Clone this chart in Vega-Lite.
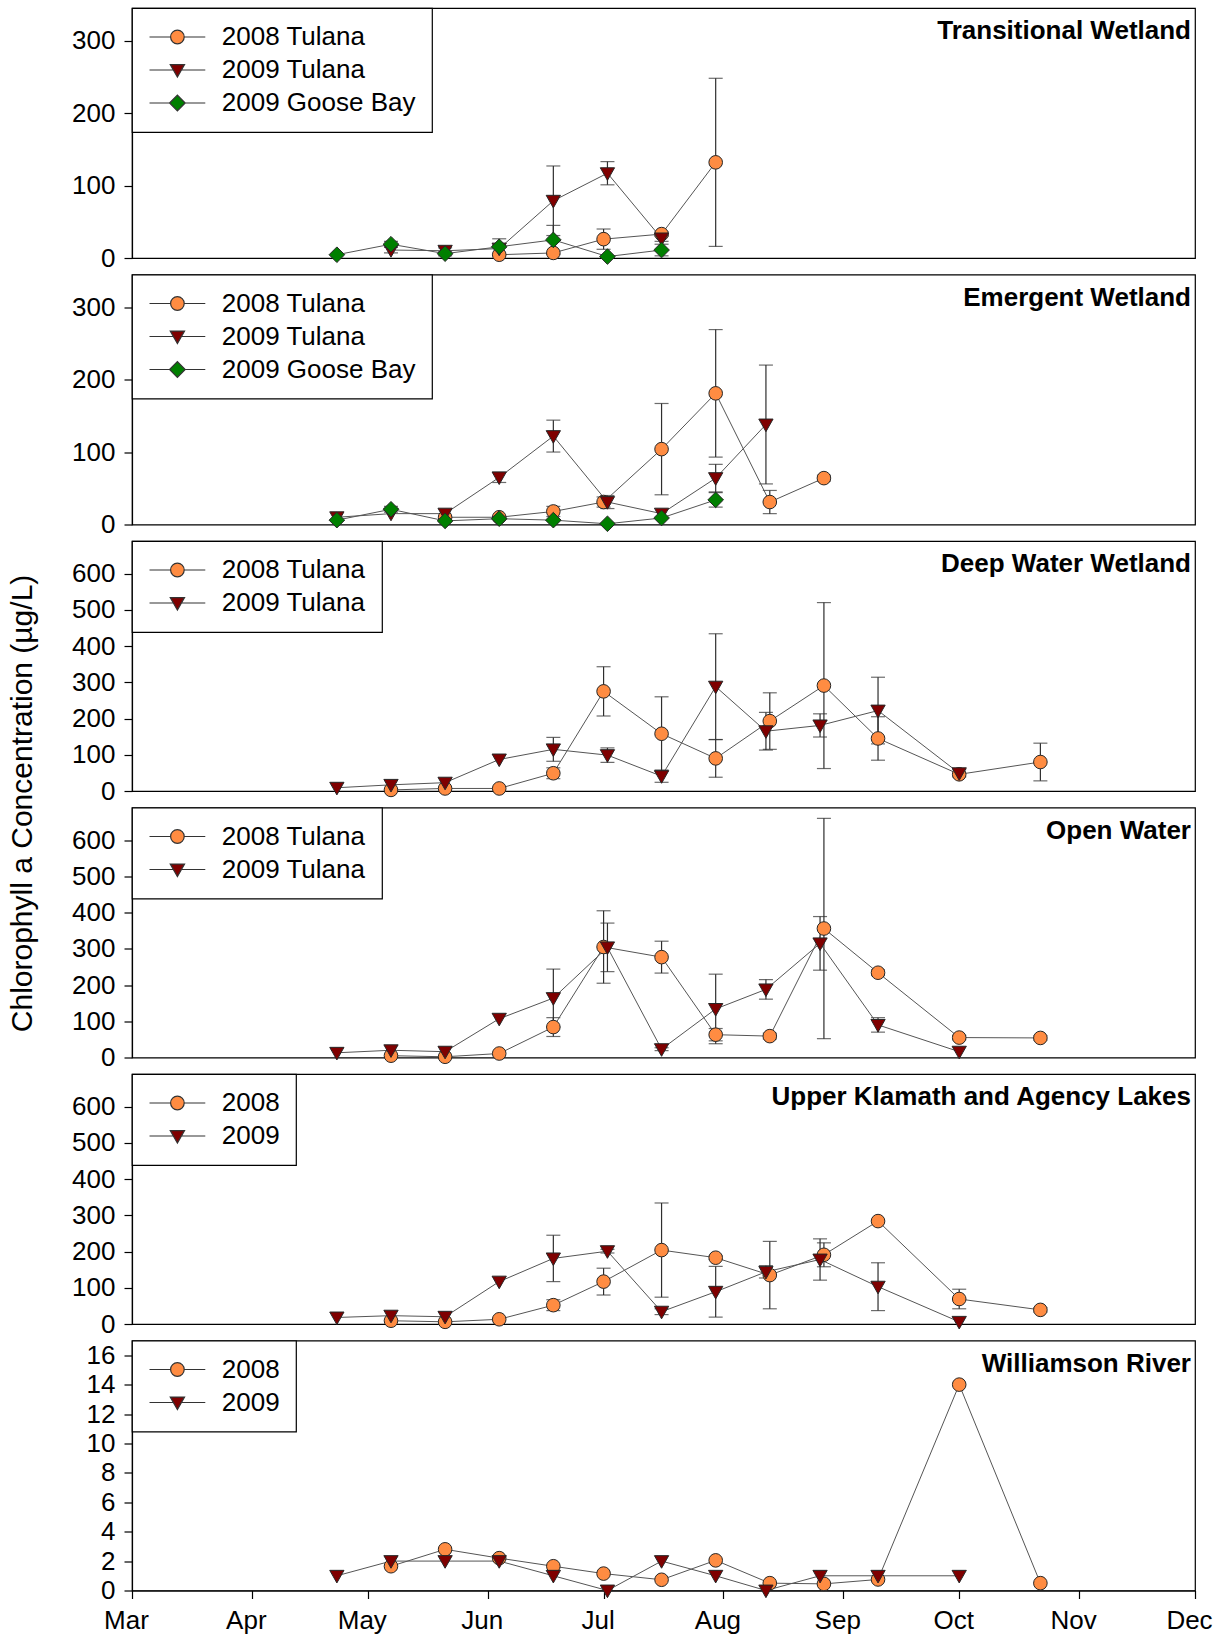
{
  "$schema": "https://vega.github.io/schema/vega-lite/v6.json",
  "padding": {"left": 8, "top": 6, "right": 0, "bottom": 0},
  "title": {
    "text": "Chlorophyll a Concentration (µg/L)",
    "orient": "left",
    "anchor": "middle",
    "frame": "bounds",
    "offset": 3,
    "baseline": "bottom",
    "dx": 17,
    "font": "Liberation Sans",
    "fontSize": 30,
    "fontWeight": "normal",
    "color": "black"
  },
  "datasets": {
    "chl": [
      {"panel": "transitional", "series": "2008 Tulana", "date": "2008-06-04", "value": 4.5, "sd": 0},
      {"panel": "transitional", "series": "2008 Tulana", "date": "2008-06-18", "value": 7, "sd": 0},
      {"panel": "transitional", "series": "2008 Tulana", "date": "2008-07-01", "value": 26, "sd": 14},
      {"panel": "transitional", "series": "2008 Tulana", "date": "2008-07-16", "value": 33, "sd": 3},
      {"panel": "transitional", "series": "2008 Tulana", "date": "2008-07-30", "value": 132, "sd": 116},
      {"panel": "transitional", "series": "2009 Tulana", "date": "2009-05-07", "value": 11, "sd": 4},
      {"panel": "transitional", "series": "2009 Tulana", "date": "2009-05-21", "value": 10, "sd": 4},
      {"panel": "transitional", "series": "2009 Tulana", "date": "2009-06-04", "value": 13, "sd": 0},
      {"panel": "transitional", "series": "2009 Tulana", "date": "2009-06-18", "value": 79, "sd": 48},
      {"panel": "transitional", "series": "2009 Tulana", "date": "2009-07-02", "value": 117, "sd": 16},
      {"panel": "transitional", "series": "2009 Tulana", "date": "2009-07-16", "value": 27, "sd": 4},
      {"panel": "transitional", "series": "2009 Goose Bay", "date": "2009-04-23", "value": 4.5, "sd": 0},
      {"panel": "transitional", "series": "2009 Goose Bay", "date": "2009-05-07", "value": 19, "sd": 4},
      {"panel": "transitional", "series": "2009 Goose Bay", "date": "2009-05-21", "value": 6, "sd": 3},
      {"panel": "transitional", "series": "2009 Goose Bay", "date": "2009-06-04", "value": 15.5, "sd": 11},
      {"panel": "transitional", "series": "2009 Goose Bay", "date": "2009-06-18", "value": 25, "sd": 20},
      {"panel": "transitional", "series": "2009 Goose Bay", "date": "2009-07-02", "value": 2, "sd": 0},
      {"panel": "transitional", "series": "2009 Goose Bay", "date": "2009-07-16", "value": 11, "sd": 8},

      {"panel": "emergent", "series": "2008 Tulana", "date": "2008-05-21", "value": 10, "sd": 0},
      {"panel": "emergent", "series": "2008 Tulana", "date": "2008-06-04", "value": 10, "sd": 0},
      {"panel": "emergent", "series": "2008 Tulana", "date": "2008-06-18", "value": 18, "sd": 7},
      {"panel": "emergent", "series": "2008 Tulana", "date": "2008-07-01", "value": 31, "sd": 7},
      {"panel": "emergent", "series": "2008 Tulana", "date": "2008-07-16", "value": 104, "sd": 63},
      {"panel": "emergent", "series": "2008 Tulana", "date": "2008-07-30", "value": 181, "sd": 88},
      {"panel": "emergent", "series": "2008 Tulana", "date": "2008-08-13", "value": 31, "sd": 16},
      {"panel": "emergent", "series": "2008 Tulana", "date": "2008-08-27", "value": 64, "sd": 4},
      {"panel": "emergent", "series": "2009 Tulana", "date": "2009-04-23", "value": 10, "sd": 0},
      {"panel": "emergent", "series": "2009 Tulana", "date": "2009-05-07", "value": 15, "sd": 0},
      {"panel": "emergent", "series": "2009 Tulana", "date": "2009-05-21", "value": 15, "sd": 0},
      {"panel": "emergent", "series": "2009 Tulana", "date": "2009-06-04", "value": 65, "sd": 7},
      {"panel": "emergent", "series": "2009 Tulana", "date": "2009-06-18", "value": 122, "sd": 22},
      {"panel": "emergent", "series": "2009 Tulana", "date": "2009-07-02", "value": 31, "sd": 9},
      {"panel": "emergent", "series": "2009 Tulana", "date": "2009-07-16", "value": 15, "sd": 0},
      {"panel": "emergent", "series": "2009 Tulana", "date": "2009-07-30", "value": 64, "sd": 19},
      {"panel": "emergent", "series": "2009 Tulana", "date": "2009-08-12", "value": 138, "sd": 82},
      {"panel": "emergent", "series": "2009 Goose Bay", "date": "2009-04-23", "value": 6, "sd": 0},
      {"panel": "emergent", "series": "2009 Goose Bay", "date": "2009-05-07", "value": 21, "sd": 4},
      {"panel": "emergent", "series": "2009 Goose Bay", "date": "2009-05-21", "value": 5, "sd": 0},
      {"panel": "emergent", "series": "2009 Goose Bay", "date": "2009-06-04", "value": 8, "sd": 0},
      {"panel": "emergent", "series": "2009 Goose Bay", "date": "2009-06-18", "value": 6, "sd": 0},
      {"panel": "emergent", "series": "2009 Goose Bay", "date": "2009-07-02", "value": 1, "sd": 0},
      {"panel": "emergent", "series": "2009 Goose Bay", "date": "2009-07-16", "value": 9, "sd": 0},
      {"panel": "emergent", "series": "2009 Goose Bay", "date": "2009-07-30", "value": 34, "sd": 10},

      {"panel": "deep", "series": "2008 Tulana", "date": "2008-05-07", "value": 3, "sd": 0},
      {"panel": "deep", "series": "2008 Tulana", "date": "2008-05-21", "value": 7, "sd": 0},
      {"panel": "deep", "series": "2008 Tulana", "date": "2008-06-04", "value": 7, "sd": 0},
      {"panel": "deep", "series": "2008 Tulana", "date": "2008-06-18", "value": 49, "sd": 15},
      {"panel": "deep", "series": "2008 Tulana", "date": "2008-07-01", "value": 275, "sd": 68},
      {"panel": "deep", "series": "2008 Tulana", "date": "2008-07-16", "value": 158, "sd": 102},
      {"panel": "deep", "series": "2008 Tulana", "date": "2008-07-30", "value": 90, "sd": 52},
      {"panel": "deep", "series": "2008 Tulana", "date": "2008-08-13", "value": 193, "sd": 78},
      {"panel": "deep", "series": "2008 Tulana", "date": "2008-08-27", "value": 291, "sd": 229},
      {"panel": "deep", "series": "2008 Tulana", "date": "2008-09-10", "value": 145, "sd": 60},
      {"panel": "deep", "series": "2008 Tulana", "date": "2008-10-01", "value": 46, "sd": 0},
      {"panel": "deep", "series": "2008 Tulana", "date": "2008-10-22", "value": 80, "sd": 52},
      {"panel": "deep", "series": "2009 Tulana", "date": "2009-04-23", "value": 9, "sd": 0},
      {"panel": "deep", "series": "2009 Tulana", "date": "2009-05-07", "value": 17, "sd": 0},
      {"panel": "deep", "series": "2009 Tulana", "date": "2009-05-21", "value": 23, "sd": 0},
      {"panel": "deep", "series": "2009 Tulana", "date": "2009-06-04", "value": 87, "sd": 0},
      {"panel": "deep", "series": "2009 Tulana", "date": "2009-06-18", "value": 115, "sd": 33},
      {"panel": "deep", "series": "2009 Tulana", "date": "2009-07-02", "value": 99, "sd": 20},
      {"panel": "deep", "series": "2009 Tulana", "date": "2009-07-16", "value": 41, "sd": 17},
      {"panel": "deep", "series": "2009 Tulana", "date": "2009-07-30", "value": 288, "sd": 146},
      {"panel": "deep", "series": "2009 Tulana", "date": "2009-08-12", "value": 165, "sd": 52},
      {"panel": "deep", "series": "2009 Tulana", "date": "2009-08-26", "value": 181, "sd": 32},
      {"panel": "deep", "series": "2009 Tulana", "date": "2009-09-10", "value": 222, "sd": 92},
      {"panel": "deep", "series": "2009 Tulana", "date": "2009-10-01", "value": 49, "sd": 10},

      {"panel": "open", "series": "2008 Tulana", "date": "2008-05-07", "value": 5, "sd": 0},
      {"panel": "open", "series": "2008 Tulana", "date": "2008-05-21", "value": 2, "sd": 0},
      {"panel": "open", "series": "2008 Tulana", "date": "2008-06-04", "value": 11, "sd": 0},
      {"panel": "open", "series": "2008 Tulana", "date": "2008-06-18", "value": 84, "sd": 26},
      {"panel": "open", "series": "2008 Tulana", "date": "2008-07-01", "value": 305, "sd": 100},
      {"panel": "open", "series": "2008 Tulana", "date": "2008-07-16", "value": 277, "sd": 44},
      {"panel": "open", "series": "2008 Tulana", "date": "2008-07-30", "value": 63, "sd": 17},
      {"panel": "open", "series": "2008 Tulana", "date": "2008-08-13", "value": 59, "sd": 8},
      {"panel": "open", "series": "2008 Tulana", "date": "2008-08-27", "value": 356, "sd": 304},
      {"panel": "open", "series": "2008 Tulana", "date": "2008-09-10", "value": 234, "sd": 8},
      {"panel": "open", "series": "2008 Tulana", "date": "2008-10-01", "value": 55, "sd": 6},
      {"panel": "open", "series": "2008 Tulana", "date": "2008-10-22", "value": 54, "sd": 6},
      {"panel": "open", "series": "2009 Tulana", "date": "2009-04-23", "value": 13, "sd": 0},
      {"panel": "open", "series": "2009 Tulana", "date": "2009-05-07", "value": 20, "sd": 0},
      {"panel": "open", "series": "2009 Tulana", "date": "2009-05-21", "value": 16, "sd": 0},
      {"panel": "open", "series": "2009 Tulana", "date": "2009-06-04", "value": 107, "sd": 0},
      {"panel": "open", "series": "2009 Tulana", "date": "2009-06-18", "value": 164, "sd": 80},
      {"panel": "open", "series": "2009 Tulana", "date": "2009-07-02", "value": 304, "sd": 67},
      {"panel": "open", "series": "2009 Tulana", "date": "2009-07-16", "value": 23, "sd": 4},
      {"panel": "open", "series": "2009 Tulana", "date": "2009-07-30", "value": 134, "sd": 96},
      {"panel": "open", "series": "2009 Tulana", "date": "2009-08-12", "value": 188, "sd": 27},
      {"panel": "open", "series": "2009 Tulana", "date": "2009-08-26", "value": 315, "sd": 74},
      {"panel": "open", "series": "2009 Tulana", "date": "2009-09-10", "value": 90, "sd": 20},
      {"panel": "open", "series": "2009 Tulana", "date": "2009-10-01", "value": 16, "sd": 0},

      {"panel": "upper", "series": "2008", "date": "2008-05-07", "value": 9, "sd": 0},
      {"panel": "upper", "series": "2008", "date": "2008-05-21", "value": 6, "sd": 0},
      {"panel": "upper", "series": "2008", "date": "2008-06-04", "value": 13, "sd": 0},
      {"panel": "upper", "series": "2008", "date": "2008-06-18", "value": 52, "sd": 15},
      {"panel": "upper", "series": "2008", "date": "2008-07-01", "value": 117, "sd": 37},
      {"panel": "upper", "series": "2008", "date": "2008-07-16", "value": 204, "sd": 130},
      {"panel": "upper", "series": "2008", "date": "2008-07-30", "value": 183, "sd": 5},
      {"panel": "upper", "series": "2008", "date": "2008-08-13", "value": 135, "sd": 93},
      {"panel": "upper", "series": "2008", "date": "2008-08-27", "value": 191, "sd": 33},
      {"panel": "upper", "series": "2008", "date": "2008-09-10", "value": 284, "sd": 5},
      {"panel": "upper", "series": "2008", "date": "2008-10-01", "value": 69, "sd": 27},
      {"panel": "upper", "series": "2008", "date": "2008-10-22", "value": 39, "sd": 6},
      {"panel": "upper", "series": "2009", "date": "2009-04-23", "value": 18, "sd": 0},
      {"panel": "upper", "series": "2009", "date": "2009-05-07", "value": 23, "sd": 0},
      {"panel": "upper", "series": "2009", "date": "2009-05-21", "value": 20, "sd": 0},
      {"panel": "upper", "series": "2009", "date": "2009-06-04", "value": 117, "sd": 0},
      {"panel": "upper", "series": "2009", "date": "2009-06-18", "value": 181, "sd": 64},
      {"panel": "upper", "series": "2009", "date": "2009-07-02", "value": 201, "sd": 5},
      {"panel": "upper", "series": "2009", "date": "2009-07-16", "value": 34, "sd": 8},
      {"panel": "upper", "series": "2009", "date": "2009-07-30", "value": 89, "sd": 70},
      {"panel": "upper", "series": "2009", "date": "2009-08-12", "value": 144, "sd": 17},
      {"panel": "upper", "series": "2009", "date": "2009-08-26", "value": 178, "sd": 57},
      {"panel": "upper", "series": "2009", "date": "2009-09-10", "value": 103, "sd": 66},
      {"panel": "upper", "series": "2009", "date": "2009-10-01", "value": 6, "sd": 0},

      {"panel": "williamson", "series": "2008", "date": "2008-05-07", "value": 1.65, "sd": 0},
      {"panel": "williamson", "series": "2008", "date": "2008-05-21", "value": 2.8, "sd": 0},
      {"panel": "williamson", "series": "2008", "date": "2008-06-04", "value": 2.2, "sd": 0},
      {"panel": "williamson", "series": "2008", "date": "2008-06-18", "value": 1.65, "sd": 0},
      {"panel": "williamson", "series": "2008", "date": "2008-07-01", "value": 1.15, "sd": 0},
      {"panel": "williamson", "series": "2008", "date": "2008-07-16", "value": 0.73, "sd": 0},
      {"panel": "williamson", "series": "2008", "date": "2008-07-30", "value": 2.05, "sd": 0},
      {"panel": "williamson", "series": "2008", "date": "2008-08-13", "value": 0.5, "sd": 0},
      {"panel": "williamson", "series": "2008", "date": "2008-08-27", "value": 0.45, "sd": 0},
      {"panel": "williamson", "series": "2008", "date": "2008-09-10", "value": 0.75, "sd": 0},
      {"panel": "williamson", "series": "2008", "date": "2008-10-01", "value": 14, "sd": 0},
      {"panel": "williamson", "series": "2008", "date": "2008-10-22", "value": 0.5, "sd": 0},
      {"panel": "williamson", "series": "2009", "date": "2009-04-23", "value": 1, "sd": 0},
      {"panel": "williamson", "series": "2009", "date": "2009-05-07", "value": 2, "sd": 0},
      {"panel": "williamson", "series": "2009", "date": "2009-05-21", "value": 2, "sd": 0},
      {"panel": "williamson", "series": "2009", "date": "2009-06-04", "value": 2, "sd": 0},
      {"panel": "williamson", "series": "2009", "date": "2009-06-18", "value": 1, "sd": 0},
      {"panel": "williamson", "series": "2009", "date": "2009-07-02", "value": 0, "sd": 0},
      {"panel": "williamson", "series": "2009", "date": "2009-07-16", "value": 2, "sd": 0},
      {"panel": "williamson", "series": "2009", "date": "2009-07-30", "value": 1, "sd": 0},
      {"panel": "williamson", "series": "2009", "date": "2009-08-12", "value": 0, "sd": 0},
      {"panel": "williamson", "series": "2009", "date": "2009-08-26", "value": 1, "sd": 0},
      {"panel": "williamson", "series": "2009", "date": "2009-09-10", "value": 1, "sd": 0},
      {"panel": "williamson", "series": "2009", "date": "2009-10-01", "value": 1, "sd": 0}
    ]
  },
  "data": {"name": "chl"},
  "bounds": "flush",
  "spacing": 16.5,
  "resolve": {
    "scale": {"x": "independent", "y": "independent", "fill": "independent", "shape": "independent"},
    "legend": {"fill": "independent", "shape": "independent"}
  },
  "vconcat": [
    {
      "title": {"text": "Transitional Wetland"},
      "width": 1063, "height": 250,
      "transform": [{"filter": "datum.panel === 'transitional'"}],
      "encoding": {
        "x": {"field": "date", "type": "temporal", "timeUnit": "utcmonthdate",
              "scale": {"type": "utc", "domain": [{"year": 2012, "month": 3, "date": 1, "utc": true}, {"year": 2012, "month": 12, "date": 1, "utc": true}]},
              "axis": null},
        "y": {"field": "value", "type": "quantitative",
              "scale": {"domain": [0, 345], "nice": false, "zero": false},
              "axis": {"values": [0, 100, 200, 300], "title": null}}
      },
      "layer": [
        {"transform": [{"filter": "datum.sd > 0"}],
         "mark": {"type": "errorbar", "ticks": {"color": "#2e2e2e"}, "rule": {"color": "#2e2e2e"}, "size": 14, "thickness": 1.2},
         "encoding": {"yError": {"field": "sd"}}},
        {"mark": {"type": "line", "color": "#555555", "strokeWidth": 1},
         "encoding": {"detail": {"field": "series", "type": "nominal"}}},
        {"mark": {"type": "point", "filled": true, "size": 185, "opacity": 1, "stroke": "#262626", "strokeWidth": 1},
         "encoding": {
           "shape": {"field": "series", "type": "nominal", "legend": null,
                     "scale": {"domain": ["2009 Goose Bay", "2008 Tulana", "2009 Tulana"], "range": ["M-1.15,0L0,-1.15L1.15,0L0,1.15Z", "circle", "M-1.05,-0.8H1.05L0,1.05Z"]}},
           "fill": {"field": "series", "type": "nominal",
                    "scale": {"domain": ["2008 Tulana", "2009 Tulana", "2009 Goose Bay"], "range": ["#ff8c42", "#7f0000", "#007f00"]},
                    "legend": {"title": null, "encoding": {"symbols": {
                      "shape": {"value": {"signal": "indexof(datum.value,'Goose')>=0?'M-4.1,0H-1.15M1.15,0H4.1M-1.15,0L0,-1.15L1.15,0L0,1.15Z':indexof(datum.value,'2008')>=0?'M-4.1,0H-1M1,0H4.1M-1,0A1,1,0,1,0,1,0A1,1,0,1,0,-1,0Z':'M-4.1,0H-0.6M0.6,0H4.1M-1.05,-0.8H1.05L0,1.05Z'"}},
                      "stroke": {"value": "#333333"}, "strokeWidth": {"value": 1.2}}}}}
         }}
      ]
    },
    {
      "title": {"text": "Emergent Wetland"},
      "width": 1063, "height": 250,
      "transform": [{"filter": "datum.panel === 'emergent'"}],
      "encoding": {
        "x": {"field": "date", "type": "temporal", "timeUnit": "utcmonthdate",
              "scale": {"type": "utc", "domain": [{"year": 2012, "month": 3, "date": 1, "utc": true}, {"year": 2012, "month": 12, "date": 1, "utc": true}]},
              "axis": null},
        "y": {"field": "value", "type": "quantitative",
              "scale": {"domain": [0, 345], "nice": false, "zero": false},
              "axis": {"values": [0, 100, 200, 300], "title": null}}
      },
      "layer": [
        {"transform": [{"filter": "datum.sd > 0"}],
         "mark": {"type": "errorbar", "ticks": {"color": "#2e2e2e"}, "rule": {"color": "#2e2e2e"}, "size": 14, "thickness": 1.2},
         "encoding": {"yError": {"field": "sd"}}},
        {"mark": {"type": "line", "color": "#555555", "strokeWidth": 1},
         "encoding": {"detail": {"field": "series", "type": "nominal"}}},
        {"mark": {"type": "point", "filled": true, "size": 185, "opacity": 1, "stroke": "#262626", "strokeWidth": 1},
         "encoding": {
           "shape": {"field": "series", "type": "nominal", "legend": null,
                     "scale": {"domain": ["2009 Goose Bay", "2008 Tulana", "2009 Tulana"], "range": ["M-1.15,0L0,-1.15L1.15,0L0,1.15Z", "circle", "M-1.05,-0.8H1.05L0,1.05Z"]}},
           "fill": {"field": "series", "type": "nominal",
                    "scale": {"domain": ["2008 Tulana", "2009 Tulana", "2009 Goose Bay"], "range": ["#ff8c42", "#7f0000", "#007f00"]},
                    "legend": {"title": null, "encoding": {"symbols": {
                      "shape": {"value": {"signal": "indexof(datum.value,'Goose')>=0?'M-4.1,0H-1.15M1.15,0H4.1M-1.15,0L0,-1.15L1.15,0L0,1.15Z':indexof(datum.value,'2008')>=0?'M-4.1,0H-1M1,0H4.1M-1,0A1,1,0,1,0,1,0A1,1,0,1,0,-1,0Z':'M-4.1,0H-0.6M0.6,0H4.1M-1.05,-0.8H1.05L0,1.05Z'"}},
                      "stroke": {"value": "#333333"}, "strokeWidth": {"value": 1.2}}}}}
         }}
      ]
    },
    {
      "title": {"text": "Deep Water Wetland"},
      "width": 1063, "height": 250,
      "transform": [{"filter": "datum.panel === 'deep'"}],
      "encoding": {
        "x": {"field": "date", "type": "temporal", "timeUnit": "utcmonthdate",
              "scale": {"type": "utc", "domain": [{"year": 2012, "month": 3, "date": 1, "utc": true}, {"year": 2012, "month": 12, "date": 1, "utc": true}]},
              "axis": null},
        "y": {"field": "value", "type": "quantitative",
              "scale": {"domain": [0, 690], "nice": false, "zero": false},
              "axis": {"values": [0, 100, 200, 300, 400, 500, 600], "title": null}}
      },
      "layer": [
        {"transform": [{"filter": "datum.sd > 0"}],
         "mark": {"type": "errorbar", "ticks": {"color": "#2e2e2e"}, "rule": {"color": "#2e2e2e"}, "size": 14, "thickness": 1.2},
         "encoding": {"yError": {"field": "sd"}}},
        {"mark": {"type": "line", "color": "#555555", "strokeWidth": 1},
         "encoding": {"detail": {"field": "series", "type": "nominal"}}},
        {"mark": {"type": "point", "filled": true, "size": 185, "opacity": 1, "stroke": "#262626", "strokeWidth": 1},
         "encoding": {
           "shape": {"field": "series", "type": "nominal", "legend": null,
                     "scale": {"domain": ["2009 Tulana", "2008 Tulana"], "range": ["M-1.05,-0.8H1.05L0,1.05Z", "circle"]}},
           "fill": {"field": "series", "type": "nominal",
                    "scale": {"domain": ["2008 Tulana", "2009 Tulana"], "range": ["#ff8c42", "#7f0000"]},
                    "legend": {"title": null, "encoding": {"symbols": {
                      "shape": {"value": {"signal": "indexof(datum.value,'Goose')>=0?'M-4.1,0H-1.15M1.15,0H4.1M-1.15,0L0,-1.15L1.15,0L0,1.15Z':indexof(datum.value,'2008')>=0?'M-4.1,0H-1M1,0H4.1M-1,0A1,1,0,1,0,1,0A1,1,0,1,0,-1,0Z':'M-4.1,0H-0.6M0.6,0H4.1M-1.05,-0.8H1.05L0,1.05Z'"}},
                      "stroke": {"value": "#333333"}, "strokeWidth": {"value": 1.2}}}}}
         }}
      ]
    },
    {
      "title": {"text": "Open Water"},
      "width": 1063, "height": 250,
      "transform": [{"filter": "datum.panel === 'open'"}],
      "encoding": {
        "x": {"field": "date", "type": "temporal", "timeUnit": "utcmonthdate",
              "scale": {"type": "utc", "domain": [{"year": 2012, "month": 3, "date": 1, "utc": true}, {"year": 2012, "month": 12, "date": 1, "utc": true}]},
              "axis": null},
        "y": {"field": "value", "type": "quantitative",
              "scale": {"domain": [0, 690], "nice": false, "zero": false},
              "axis": {"values": [0, 100, 200, 300, 400, 500, 600], "title": null}}
      },
      "layer": [
        {"transform": [{"filter": "datum.sd > 0"}],
         "mark": {"type": "errorbar", "ticks": {"color": "#2e2e2e"}, "rule": {"color": "#2e2e2e"}, "size": 14, "thickness": 1.2},
         "encoding": {"yError": {"field": "sd"}}},
        {"mark": {"type": "line", "color": "#555555", "strokeWidth": 1},
         "encoding": {"detail": {"field": "series", "type": "nominal"}}},
        {"mark": {"type": "point", "filled": true, "size": 185, "opacity": 1, "stroke": "#262626", "strokeWidth": 1},
         "encoding": {
           "shape": {"field": "series", "type": "nominal", "legend": null,
                     "scale": {"domain": ["2009 Tulana", "2008 Tulana"], "range": ["M-1.05,-0.8H1.05L0,1.05Z", "circle"]}},
           "fill": {"field": "series", "type": "nominal",
                    "scale": {"domain": ["2008 Tulana", "2009 Tulana"], "range": ["#ff8c42", "#7f0000"]},
                    "legend": {"title": null, "encoding": {"symbols": {
                      "shape": {"value": {"signal": "indexof(datum.value,'Goose')>=0?'M-4.1,0H-1.15M1.15,0H4.1M-1.15,0L0,-1.15L1.15,0L0,1.15Z':indexof(datum.value,'2008')>=0?'M-4.1,0H-1M1,0H4.1M-1,0A1,1,0,1,0,1,0A1,1,0,1,0,-1,0Z':'M-4.1,0H-0.6M0.6,0H4.1M-1.05,-0.8H1.05L0,1.05Z'"}},
                      "stroke": {"value": "#333333"}, "strokeWidth": {"value": 1.2}}}}}
         }}
      ]
    },
    {
      "title": {"text": "Upper Klamath and Agency Lakes"},
      "width": 1063, "height": 250,
      "transform": [{"filter": "datum.panel === 'upper'"}],
      "encoding": {
        "x": {"field": "date", "type": "temporal", "timeUnit": "utcmonthdate",
              "scale": {"type": "utc", "domain": [{"year": 2012, "month": 3, "date": 1, "utc": true}, {"year": 2012, "month": 12, "date": 1, "utc": true}]},
              "axis": null},
        "y": {"field": "value", "type": "quantitative",
              "scale": {"domain": [0, 690], "nice": false, "zero": false},
              "axis": {"values": [0, 100, 200, 300, 400, 500, 600], "title": null}}
      },
      "layer": [
        {"transform": [{"filter": "datum.sd > 0"}],
         "mark": {"type": "errorbar", "ticks": {"color": "#2e2e2e"}, "rule": {"color": "#2e2e2e"}, "size": 14, "thickness": 1.2},
         "encoding": {"yError": {"field": "sd"}}},
        {"mark": {"type": "line", "color": "#555555", "strokeWidth": 1},
         "encoding": {"detail": {"field": "series", "type": "nominal"}}},
        {"mark": {"type": "point", "filled": true, "size": 185, "opacity": 1, "stroke": "#262626", "strokeWidth": 1},
         "encoding": {
           "shape": {"field": "series", "type": "nominal", "legend": null,
                     "scale": {"domain": ["2009", "2008"], "range": ["M-1.05,-0.8H1.05L0,1.05Z", "circle"]}},
           "fill": {"field": "series", "type": "nominal",
                    "scale": {"domain": ["2008", "2009"], "range": ["#ff8c42", "#7f0000"]},
                    "legend": {"title": null, "encoding": {"symbols": {
                      "shape": {"value": {"signal": "indexof(datum.value,'Goose')>=0?'M-4.1,0H-1.15M1.15,0H4.1M-1.15,0L0,-1.15L1.15,0L0,1.15Z':indexof(datum.value,'2008')>=0?'M-4.1,0H-1M1,0H4.1M-1,0A1,1,0,1,0,1,0A1,1,0,1,0,-1,0Z':'M-4.1,0H-0.6M0.6,0H4.1M-1.05,-0.8H1.05L0,1.05Z'"}},
                      "stroke": {"value": "#333333"}, "strokeWidth": {"value": 1.2}}}}}
         }}
      ]
    },
    {
      "title": {"text": "Williamson River"},
      "width": 1063, "height": 250,
      "transform": [{"filter": "datum.panel === 'williamson'"}],
      "encoding": {
        "x": {"field": "date", "type": "temporal", "timeUnit": "utcmonthdate",
              "scale": {"type": "utc", "domain": [{"year": 2012, "month": 3, "date": 1, "utc": true}, {"year": 2012, "month": 12, "date": 1, "utc": true}]},
              "axis": {"title": null, "labelExpr": "utcFormat(datum.value, '%b')", "labelOverlap": false, "labelFlush": false, "labelOffset": -6,
                       "values": [
                         {"year": 2012, "month": 3, "date": 1, "utc": true},
                         {"year": 2012, "month": 4, "date": 1, "utc": true},
                         {"year": 2012, "month": 5, "date": 1, "utc": true},
                         {"year": 2012, "month": 6, "date": 1, "utc": true},
                         {"year": 2012, "month": 7, "date": 1, "utc": true},
                         {"year": 2012, "month": 8, "date": 1, "utc": true},
                         {"year": 2012, "month": 9, "date": 1, "utc": true},
                         {"year": 2012, "month": 10, "date": 1, "utc": true},
                         {"year": 2012, "month": 11, "date": 1, "utc": true},
                         {"year": 2012, "month": 12, "date": 1, "utc": true}
                       ]}},
        "y": {"field": "value", "type": "quantitative",
              "scale": {"domain": [0, 17], "nice": false, "zero": false},
              "axis": {"values": [0, 2, 4, 6, 8, 10, 12, 14, 16], "title": null}}
      },
      "layer": [
        {"mark": {"type": "line", "color": "#555555", "strokeWidth": 1},
         "encoding": {"detail": {"field": "series", "type": "nominal"}}},
        {"mark": {"type": "point", "filled": true, "size": 185, "opacity": 1, "stroke": "#262626", "strokeWidth": 1},
         "encoding": {
           "shape": {"field": "series", "type": "nominal", "legend": null,
                     "scale": {"domain": ["2009", "2008"], "range": ["M-1.05,-0.8H1.05L0,1.05Z", "circle"]}},
           "fill": {"field": "series", "type": "nominal",
                    "scale": {"domain": ["2008", "2009"], "range": ["#ff8c42", "#7f0000"]},
                    "legend": {"title": null, "encoding": {"symbols": {
                      "shape": {"value": {"signal": "indexof(datum.value,'Goose')>=0?'M-4.1,0H-1.15M1.15,0H4.1M-1.15,0L0,-1.15L1.15,0L0,1.15Z':indexof(datum.value,'2008')>=0?'M-4.1,0H-1M1,0H4.1M-1,0A1,1,0,1,0,1,0A1,1,0,1,0,-1,0Z':'M-4.1,0H-0.6M0.6,0H4.1M-1.05,-0.8H1.05L0,1.05Z'"}},
                      "stroke": {"value": "#333333"}, "strokeWidth": {"value": 1.2}}}}}
         }}
      ]
    }
  ],
  "config": {
    "font": "Liberation Sans",
    "view": {"stroke": "black", "strokeWidth": 1.2},
    "axis": {
      "labelFont": "Liberation Sans", "labelFontSize": 26, "labelColor": "black",
      "domainColor": "black", "domainWidth": 1.2, "tickColor": "black", "tickWidth": 1.2,
      "tickSize": 8, "labelPadding": 9, "grid": false
    },
    "legend": {
      "orient": "top-left", "offset": 0, "padding": 16,
      "strokeColor": "black", "strokeWidth": 1.2, "fillColor": "white",
      "labelFont": "Liberation Sans", "labelFontSize": 26, "labelColor": "black", "labelLimit": 500,
      "symbolSize": 185, "symbolStrokeWidth": 1.2, "symbolStrokeColor": "#333333",
      "symbolOffset": 16.4, "labelOffset": 31.4, "rowPadding": 7
    },
    "title": {
      "font": "Liberation Sans", "fontSize": 26, "fontWeight": "bold", "color": "black",
      "anchor": "end", "frame": "group", "orient": "top", "baseline": "middle",
      "offset": -37, "dx": -4
    }
  }
}
